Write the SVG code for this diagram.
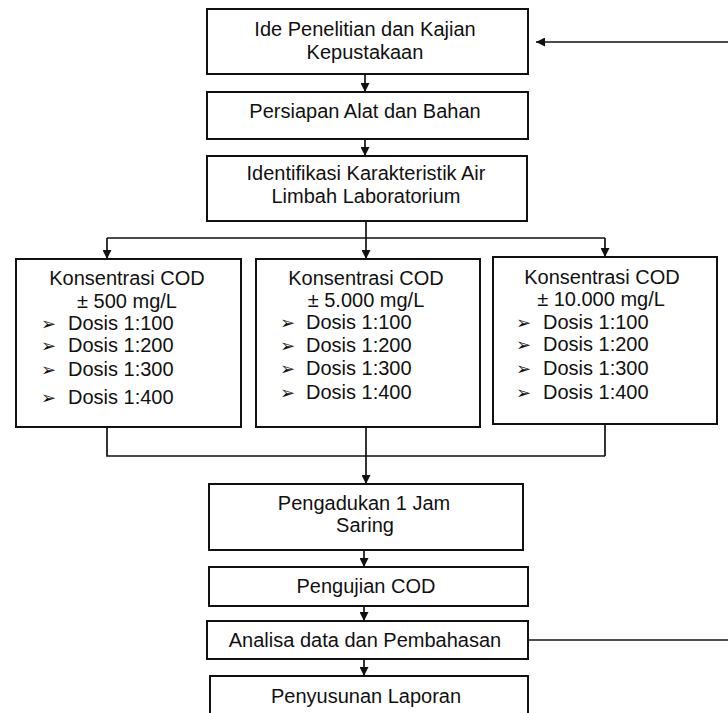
<svg xmlns="http://www.w3.org/2000/svg" width="728" height="713" viewBox="0 0 728 713">
<style>
.box{fill:#fff;stroke:#111;stroke-width:2}
.t{font-family:"Liberation Sans",Arial,sans-serif;font-size:20px;fill:#111}
.c{text-anchor:middle}
.b{font-family:"DejaVu Sans","Noto Sans",sans-serif;font-size:18px;fill:#111}
.ln{fill:none;stroke:#111;stroke-width:1.7}
</style>
<defs>
<marker id="ah" viewBox="0 0 10 10" refX="10" refY="5" markerWidth="9" markerHeight="9" markerUnits="userSpaceOnUse" orient="auto">
<path d="M0,0 L10,5 L0,10 z" fill="#111"/>
</marker>
</defs>
<rect width="728" height="713" fill="#fff"/>
<g id="connectors">
<path class="ln" d="M365,74 V92" marker-end="url(#ah)"/>
<path class="ln" d="M365,139 V156" marker-end="url(#ah)"/>
<path class="ln" d="M366,221 V238 M107,238 H605"/>
<path class="ln" d="M107,238 V259" marker-end="url(#ah)"/>
<path class="ln" d="M366,238 V259" marker-end="url(#ah)"/>
<path class="ln" d="M605,238 V257" marker-end="url(#ah)"/>
<path class="ln" d="M107,427 V456 H605 M605,424 V456"/>
<path class="ln" d="M366,427 V484" marker-end="url(#ah)"/>
<path class="ln" d="M364,550 V567" marker-end="url(#ah)"/>
<path class="ln" d="M364,606 V621" marker-end="url(#ah)"/>
<path class="ln" d="M364,659 V676" marker-end="url(#ah)"/>
<path class="ln" d="M528,640 H728"/>
<path class="ln" d="M728,42 H536" marker-end="url(#ah)"/>
</g>
<g id="n1">
<rect class="box" x="207" y="9" width="321" height="65"/>
<text class="t c" x="365" y="36">Ide Penelitian dan Kajian</text>
<text class="t c" x="365" y="59">Kepustakaan</text>
</g>
<g id="n2">
<rect class="box" x="207" y="92" width="321" height="47"/>
<text class="t c" x="365" y="118">Persiapan Alat dan Bahan</text>
</g>
<g id="n3">
<rect class="box" x="207" y="156" width="320" height="65"/>
<text class="t c" x="366" y="180">Identifikasi Karakteristik Air</text>
<text class="t c" x="366" y="203">Limbah Laboratorium</text>
</g>
<g id="n4">
<rect class="box" x="16" y="259" width="225" height="168"/>
<text class="t c" x="127" y="285">Konsentrasi COD</text>
<text class="t c" x="127" y="308">± 500 mg/L</text>
<text class="b" x="41" y="330">➢</text><text class="t" x="68" y="330">Dosis 1:100</text>
<text class="b" x="41" y="352">➢</text><text class="t" x="68" y="352">Dosis 1:200</text>
<text class="b" x="41" y="376">➢</text><text class="t" x="68" y="376">Dosis 1:300</text>
<text class="b" x="41" y="404">➢</text><text class="t" x="68" y="404">Dosis 1:400</text>
</g>
<g id="n5">
<rect class="box" x="256" y="259" width="224" height="168"/>
<text class="t c" x="366" y="285">Konsentrasi COD</text>
<text class="t c" x="366" y="307">± 5.000 mg/L</text>
<text class="b" x="280" y="329">➢</text><text class="t" x="306" y="329">Dosis 1:100</text>
<text class="b" x="280" y="352">➢</text><text class="t" x="306" y="352">Dosis 1:200</text>
<text class="b" x="280" y="375">➢</text><text class="t" x="306" y="375">Dosis 1:300</text>
<text class="b" x="280" y="399">➢</text><text class="t" x="306" y="399">Dosis 1:400</text>
</g>
<g id="n6">
<rect class="box" x="493" y="257" width="224" height="167"/>
<text class="t c" x="602" y="284">Konsentrasi COD</text>
<text class="t c" x="601" y="306">± 10.000 mg/L</text>
<text class="b" x="516" y="329">➢</text><text class="t" x="543" y="329">Dosis 1:100</text>
<text class="b" x="516" y="351">➢</text><text class="t" x="543" y="351">Dosis 1:200</text>
<text class="b" x="516" y="375">➢</text><text class="t" x="543" y="375">Dosis 1:300</text>
<text class="b" x="516" y="399">➢</text><text class="t" x="543" y="399">Dosis 1:400</text>
</g>
<g id="n7">
<rect class="box" x="209" y="484" width="314" height="66"/>
<text class="t c" x="364" y="510">Pengadukan 1 Jam</text>
<text class="t c" x="365" y="532">Saring</text>
</g>
<g id="n8">
<rect class="box" x="209" y="567" width="319" height="39"/>
<text class="t c" x="366" y="593">Pengujian COD</text>
</g>
<g id="n9">
<rect class="box" x="207" y="621" width="321" height="38"/>
<text class="t c" x="365" y="647">Analisa data dan Pembahasan</text>
</g>
<g id="n10">
<rect class="box" x="210" y="676" width="318" height="50"/>
<text class="t c" x="366" y="703">Penyusunan Laporan</text>
</g>
</svg>
